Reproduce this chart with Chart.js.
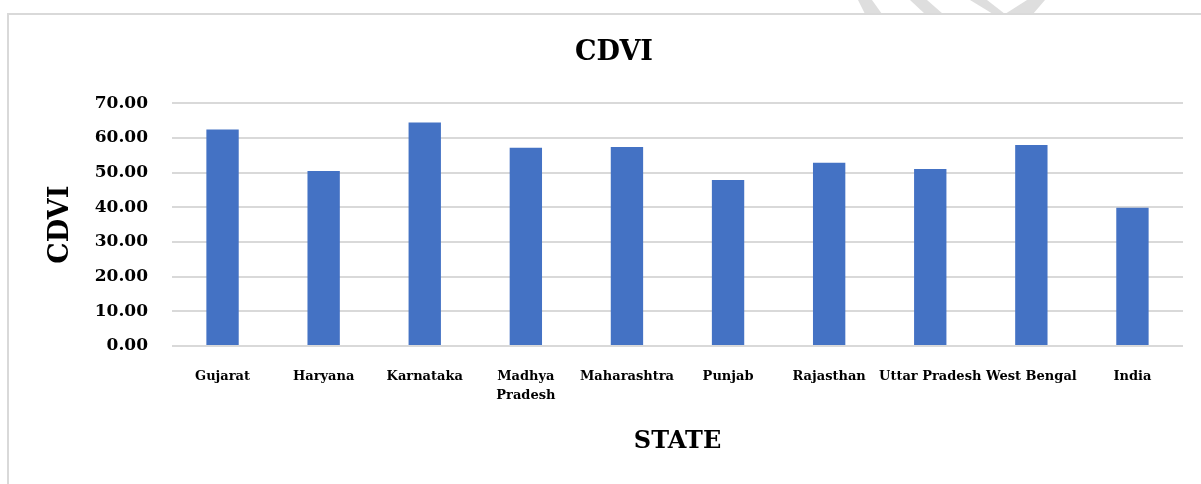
<!DOCTYPE html>
<html>
<head>
<meta charset="utf-8">
<script src="https://cdn.jsdelivr.net/npm/chart.js@4"></script>
<style>
    body { margin: 0; background: #fff; width: 1201px; height: 484px; overflow: hidden; position: relative; }
    #mark { position: absolute; left: 0; top: 0; }
    #frame { position: absolute; left: 7px; top: 13px; width: 1194px; height: 471px; border-left: 2px solid #d9d9d9; border-top: 2px solid #d9d9d9; }
    #chart-wrap { position: absolute; left: 0; top: 0; width: 1194px; height: 471px; }
</style>
</head>
<body>
<svg id="mark" width="1201" height="14">
    <polygon points="858,0 872,0 882,14 865,14" fill="#dedede"/>
    <polygon points="910,0 927,0 943,14 925,14" fill="#dedede"/>
    <polygon points="970,0 987,0 1005,14 993,14" fill="#dedede"/>
    <polygon points="1027,0 1045,0 1033,14 1005,14" fill="#dedede"/>
</svg>
<div id="frame">
    <div id="chart-wrap"><canvas id="cdvi-chart"></canvas></div>
</div>
<script>
const states = ['Gujarat', 'Haryana', 'Karnataka', ['Madhya', 'Pradesh'], 'Maharashtra', 'Punjab', 'Rajasthan', 'Uttar Pradesh', 'West Bengal', 'India'];
const cdviValues = [62.5, 50.5, 64.5, 57.2, 57.4, 47.9, 52.9, 51.1, 58.0, 39.9];
const yTicks = [0, 10, 20, 30, 40, 50, 60, 70];

const serif = '"DejaVu Serif", "Liberation Serif", serif';
const gridColor = '#d9d9d9';

const canvas = document.getElementById('cdvi-chart');

new Chart(canvas, {
    type: 'bar',
    data: {
        labels: states,
        datasets: [{
            label: 'CDVI',
            data: cdviValues,
            backgroundColor: '#4472c4',
            borderWidth: 0,
            barPercentage: 0.32,
            categoryPercentage: 1
        }]
    },
    options: {
        responsive: true,
        maintainAspectRatio: false,
        animation: false,
        layout: { padding: { left: 36, right: 20, top: 0, bottom: 30 } },
        plugins: {
            legend: { display: false },
            tooltip: { enabled: false },
            title: {
                display: true,
                text: 'CDVI',
                color: '#000',
                font: { family: serif, size: 27, weight: 'bold' },
                padding: { top: 22, bottom: 34 }
            }
        },
        scales: {
            x: {
                grid: { display: false, drawTicks: false },
                border: { display: false },
                ticks: {
                    color: '#000',
                    font: { family: serif, size: 13, weight: 'bold', lineHeight: 1.4 },
                    maxRotation: 0,
                    minRotation: 0,
                    autoSkip: false,
                    padding: 22
                },
                title: {
                    display: true,
                    text: 'STATE',
                    color: '#000',
                    font: { family: serif, size: 24, weight: 'bold' },
                    padding: { top: 0, bottom: 0 }
                },
                afterFit: scale => { scale.height = 110; }
            },
            y: {
                min: 0,
                max: 70,
                afterBuildTicks: scale => { scale.ticks = yTicks.map(v => ({ value: v })); },
                grid: { color: gridColor, lineWidth: 2, drawTicks: false },
                border: { display: false },
                ticks: {
                    color: '#000',
                    font: { family: serif, size: 17, weight: 'bold' },
                    padding: 24,
                    callback: v => Number(v).toFixed(2)
                },
                title: {
                    display: true,
                    text: 'CDVI',
                    color: '#000',
                    font: { family: serif, size: 27, weight: 'bold' },
                    padding: { top: 0, bottom: 0 }
                },
                afterFit: scale => { scale.width = 127; }
            }
        }
    }
});
</script>
</body>
</html>
